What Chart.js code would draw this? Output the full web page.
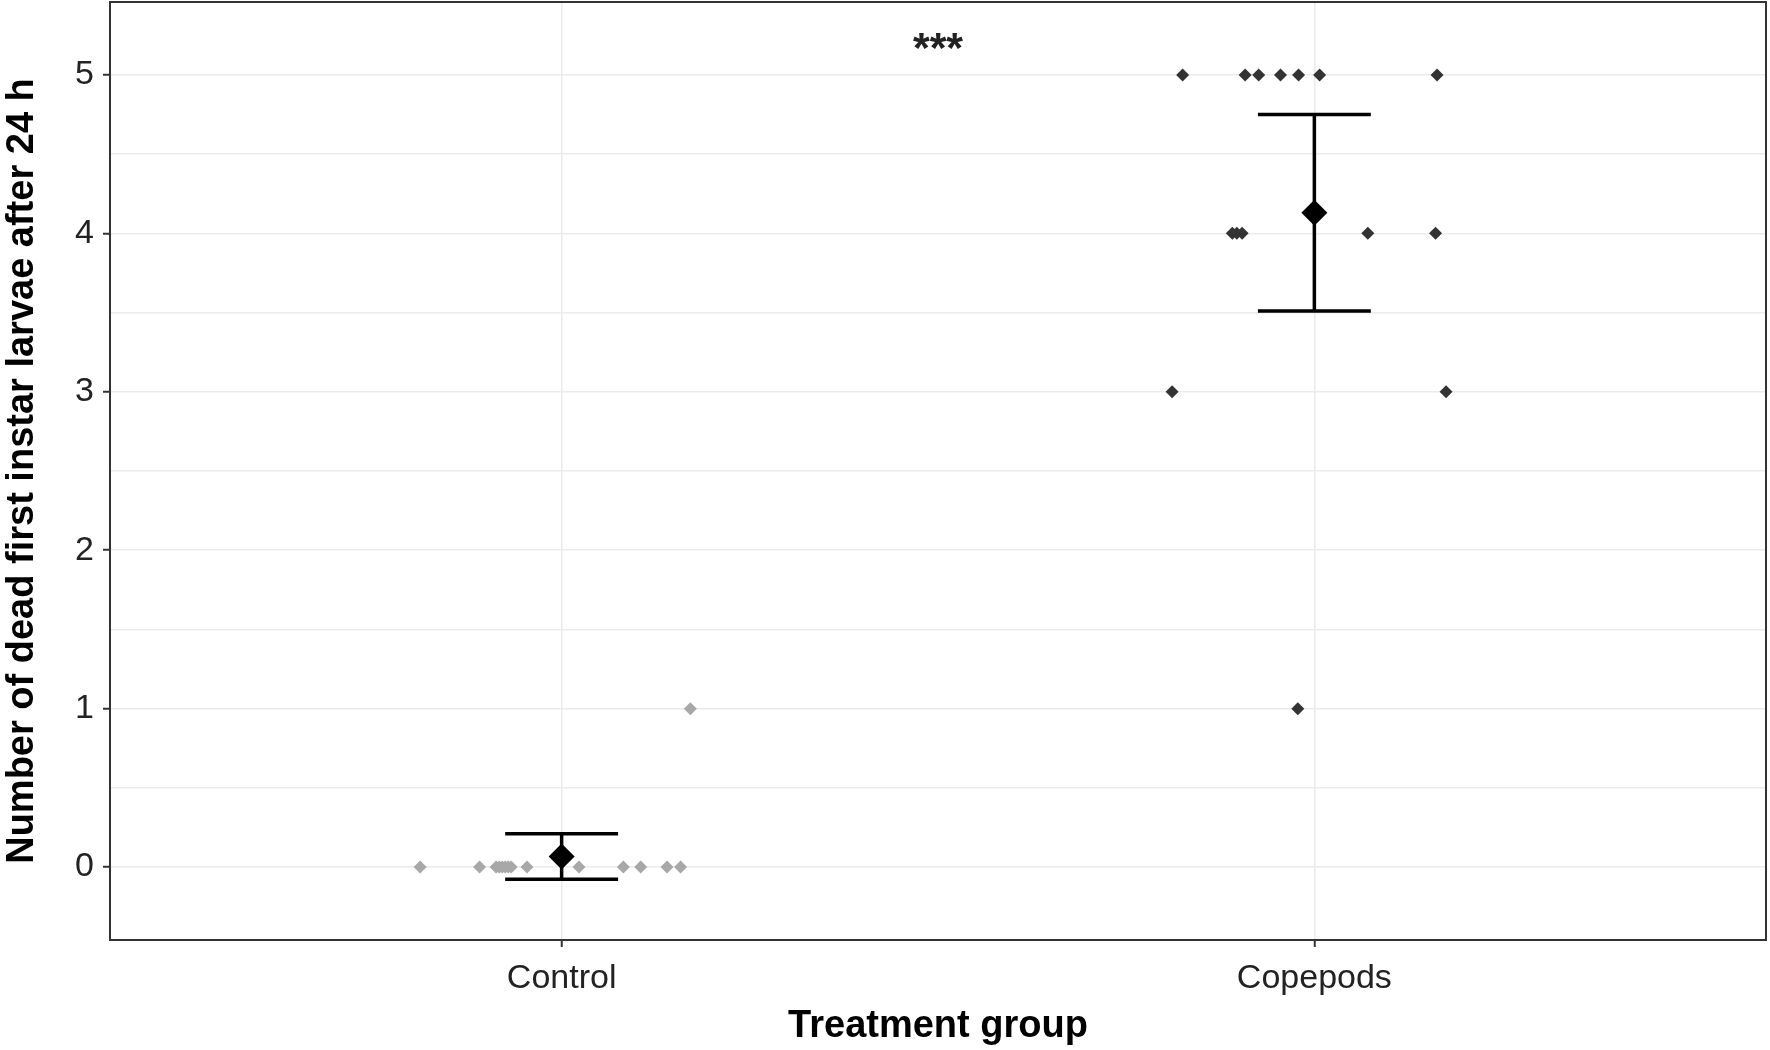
<!DOCTYPE html>
<html>
<head>
<meta charset="utf-8">
<title>Dead first instar larvae</title>
<script src="https://cdn.jsdelivr.net/npm/chart.js@4.4.1/dist/chart.umd.min.js"></script>
<style>
    html, body { margin: 0; padding: 0; background: #fff; }
    #wrap { width: 1770px; height: 1050px; }
</style>
</head>
<body>
<div id="wrap"><canvas id="chart" width="1770" height="1050"></canvas></div>
<script>
// values
const groups = ['Control', 'Copepods'];
const groupPos = [1, 2];

const controlX = [0.812, 0.891, 0.913, 0.917, 0.921, 0.925, 0.929, 0.933, 0.954, 1.023, 1.082, 1.105, 1.140, 1.158, 1.171];
const controlY = [0, 0, 0, 0, 0, 0, 0, 0, 0, 0, 0, 0, 0, 0, 1];

const copepodX = [1.825, 1.908, 1.926, 1.955, 1.979, 2.007, 2.163, 1.891, 1.897, 1.904, 2.071, 2.161, 1.811, 2.175, 1.978];
const copepodY = [5, 5, 5, 5, 5, 5, 5, 4, 4, 4, 4, 4, 3, 3, 1];

const means = [0.067, 4.13];
const ciHalf = [0.143, 0.62];

const yMajor = [0, 1, 2, 3, 4, 5];
const yMinor = [0.5, 1.5, 2.5, 3.5, 4.5];
const signifLabel = '***';

const FONT = "'Liberation Sans', Arial, sans-serif";
const GRID = '#EBEBEB';
const DARK = '#333333';
const CAP = 0.075;

function toPoints(xs, ys) {
    return xs.map((x, i) => ({ x: x, y: ys[i] }));
}

function errorBarData(i) {
    const g = groupPos[i];
    const hi = means[i] + ciHalf[i];
    const lo = means[i] - ciHalf[i];
    return [
        { x: g - CAP, y: hi }, { x: g + CAP, y: hi }, { x: g, y: null },
        { x: g, y: hi }, { x: g, y: lo }, { x: g, y: null },
        { x: g - CAP, y: lo }, { x: g + CAP, y: lo }
    ];
}

function noEdgePadding(s) {
    s.paddingTop = 0;
    s.paddingBottom = 0;
    s.paddingLeft = 0;
    s.paddingRight = 0;
}

const frame = {
    id: 'frame',
    afterDraw(chart) {
        const { ctx, chartArea: a, scales } = chart;
        ctx.save();
        ctx.strokeStyle = DARK;
        ctx.lineWidth = 2;
        ctx.strokeRect(a.left, a.top, a.right - a.left, a.bottom - a.top);

        // significance stars between the groups
        const size = 43;
        ctx.font = 'bold ' + size + 'px ' + FONT;
        ctx.fillStyle = '#222';
        ctx.textAlign = 'center';
        ctx.textBaseline = 'alphabetic';
        const px = scales.x.getPixelForValue((groupPos[0] + groupPos[1]) / 2);
        const py = scales.y.getPixelForValue(5.24);
        ctx.fillText(signifLabel, px, py + size * 0.575);
        ctx.restore();
    }
};

const datasets = [
    {
        label: 'mean',
        data: groupPos.map((g, i) => ({ x: g, y: means[i] })),
        pointStyle: 'rectRot',
        pointRadius: 13,
        backgroundColor: '#000',
        borderWidth: 0
    },
    ...groupPos.map((g, i) => ({
        label: 'ci ' + groups[i],
        data: errorBarData(i),
        showLine: true,
        spanGaps: false,
        pointRadius: 0,
        borderColor: '#000',
        borderWidth: 3.5,
        borderCapStyle: 'butt'
    })),
    {
        label: groups[1],
        data: toPoints(copepodX, copepodY),
        pointStyle: 'rectRot',
        pointRadius: 6.5,
        backgroundColor: DARK,
        borderWidth: 0
    },
    {
        label: groups[0],
        data: toPoints(controlX, controlY),
        pointStyle: 'rectRot',
        pointRadius: 6.5,
        backgroundColor: '#A8A8A8',
        borderWidth: 0
    }
];

new Chart(document.getElementById('chart').getContext('2d'), {
    type: 'scatter',
    data: { datasets: datasets },
    options: {
        responsive: false,
        animation: false,
        events: [],
        layout: { autoPadding: false, padding: { top: 2, right: 4, left: 0, bottom: 0 } },
        plugins: {
            legend: { display: false },
            tooltip: { enabled: false }
        },
        scales: {
            x: {
                type: 'linear',
                min: 0.4,
                max: 2.6,
                afterBuildTicks: s => { s.ticks = groupPos.map(v => ({ value: v })); },
                afterFit: s => { s.height = 110; noEdgePadding(s); },
                border: { display: false },
                grid: {
                    color: GRID,
                    lineWidth: 1.5,
                    tickLength: 7,
                    tickColor: DARK,
                    tickWidth: 2
                },
                ticks: {
                    padding: 11,
                    color: '#222',
                    font: { family: FONT, size: 34 },
                    callback: v => groups[groupPos.indexOf(v)]
                },
                title: {
                    display: true,
                    text: 'Treatment group',
                    color: '#000',
                    font: { family: FONT, size: 38, weight: 'bold', lineHeight: 1.2 },
                    padding: { top: 0, bottom: 1 }
                }
            },
            y: {
                type: 'linear',
                min: -0.46,
                max: 5.46,
                afterBuildTicks: s => {
                    s.ticks = yMajor.concat(yMinor).sort((a, b) => a - b).map(v => ({ value: v }));
                },
                afterFit: s => { s.width = 110; noEdgePadding(s); },
                border: { display: false },
                grid: {
                    color: GRID,
                    lineWidth: 1.5,
                    tickLength: 7,
                    tickWidth: 2,
                    tickColor: c => (c.tick && yMajor.includes(c.tick.value)) ? DARK : 'rgba(0,0,0,0)'
                },
                ticks: {
                    padding: 9,
                    color: '#222',
                    font: { family: FONT, size: 34 },
                    callback: v => yMajor.includes(v) ? String(v) : ''
                },
                title: {
                    display: true,
                    text: 'Number of dead first instar larvae after 24 h',
                    color: '#000',
                    font: { family: FONT, size: 38, weight: 'bold', lineHeight: 1.2 },
                    padding: { top: 0, bottom: 0 }
                }
            }
        }
    },
    plugins: [frame]
});
</script>
</body>
</html>
